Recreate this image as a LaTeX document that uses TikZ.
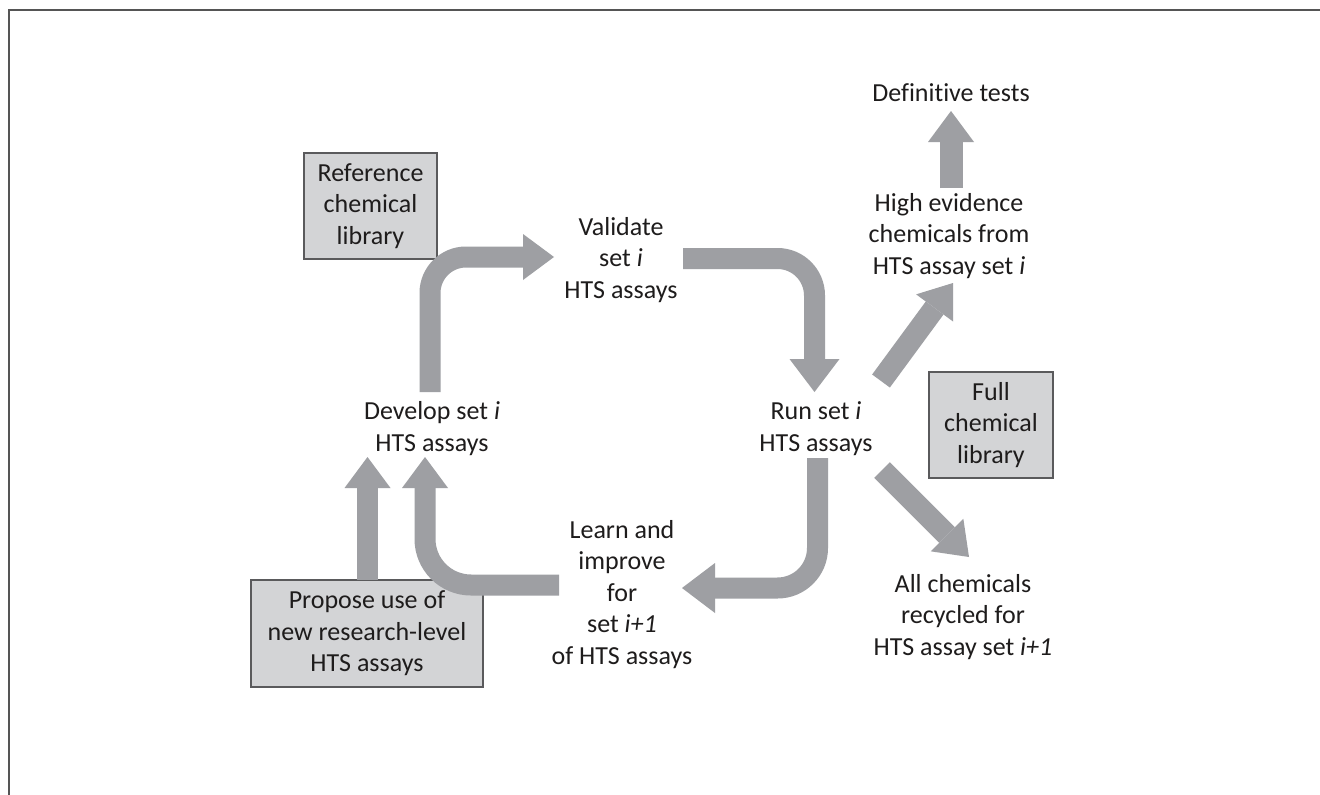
\documentclass[tikz,border=0pt]{standalone}
\usepackage{fontspec}
\setmainfont{Carlito}[Ligatures=NoCommon]
\usetikzlibrary{arrows.meta,calc}
\definecolor{arrowgray}{RGB}{158,159,163}
\definecolor{boxfill}{RGB}{211,212,214}
\definecolor{boxline}{RGB}{90,90,92}
\definecolor{framec}{RGB}{85,85,85}
\definecolor{txt}{RGB}{30,28,28}
\tikzset{
  lbl/.style={align=center, inner sep=0pt, anchor=base, text=txt,
    font=\fontsize{26pt}{31.4pt}\selectfont},
  graybox/.style={draw=boxline, line width=1.2pt, fill=boxfill, align=center,
    inner sep=0pt, anchor=center, text=txt,
    font=\fontsize{26pt}{31.4pt}\selectfont},
  bigarr/.style={draw=arrowgray, line width=21pt,
    -{Triangle[length=31pt,width=46pt,line width=0pt]}, arrowgray},
  widearr/.style={draw=arrowgray, line width=21pt,
    -{Triangle[length=33pt,width=50pt,line width=0pt]}, arrowgray},
}
\begin{document}
\begin{tikzpicture}[x=1pt,y=-1pt]
\useasboundingbox (0,0) rectangle (1320,795);
\fill[white] (0,0) rectangle (1320,795);
\draw[framec, line width=1.5pt] (9,10) rectangle (1345,820);

% boxes
\node[graybox, minimum width=133pt, minimum height=106pt] (ref) at (370.5,206) {Reference\\chemical\\library};
\node[graybox, minimum width=124pt, minimum height=106pt] (full) at (991,425) {Full\\chemical\\library};
\node[graybox, minimum width=232pt, minimum height=107pt] (prop) at (367,633.5) {Propose use of\\new research-level\\HTS assays};

% text nodes (anchor = baseline of last line)
\node[lbl] (val) at (621,298) {Validate\\set \textit{i}\\HTS assays};
\node[lbl] (dev) at (432,451) {Develop set \textit{i}\\HTS assays};
\node[lbl] (run) at (816,451) {Run set \textit{i}\\HTS assays};
\node[lbl] (learn) at (622,664) {Learn and\\improve\\for\\set \textit{i+1}\\of HTS assays};
\node[lbl] (high) at (949,274) {High evidence\\chemicals from\\HTS assay set \textit{i}};
\node[lbl] (def) at (951,101) {Definitive tests};
\node[lbl] (all) at (963,655) {All chemicals\\recycled for\\HTS assay set \textit{i+1}};

% connectors
\draw[bigarr, rounded corners=36pt] ([shift={(-2,-59)}]dev.base) |- ([shift={(-67,-41)}]val.base);
\draw[widearr, rounded corners=37pt] ([shift={(62,-39.5)}]val.base) -| ([shift={(-1.5,-59)}]run.base);
\draw[widearr, rounded corners=40pt] ([shift={(1.5,7)}]run.base) |- ([shift={(60,-76)}]learn.base);
\draw[bigarr, rounded corners=46pt] ([shift={(-63,-79)}]learn.base) -| ([shift={(-7,6)}]dev.base);
\draw[bigarr] ([shift={(0.5,-53.5)}]prop.center) -- ([shift={(-64.5,6)}]dev.base);
\draw[bigarr, line width=23pt] ([shift={(2,-86)}]high.base) -- ([shift={(0,10)}]def.base);
\draw[bigarr, line width=22pt] ([shift={(65,-70)}]run.base) -- ([shift={(4,9)}]high.base);
\draw[bigarr, line width=22pt] ([shift={(66,19)}]run.base) -- ([shift={(6,-98)}]all.base);
\end{tikzpicture}
\end{document}
